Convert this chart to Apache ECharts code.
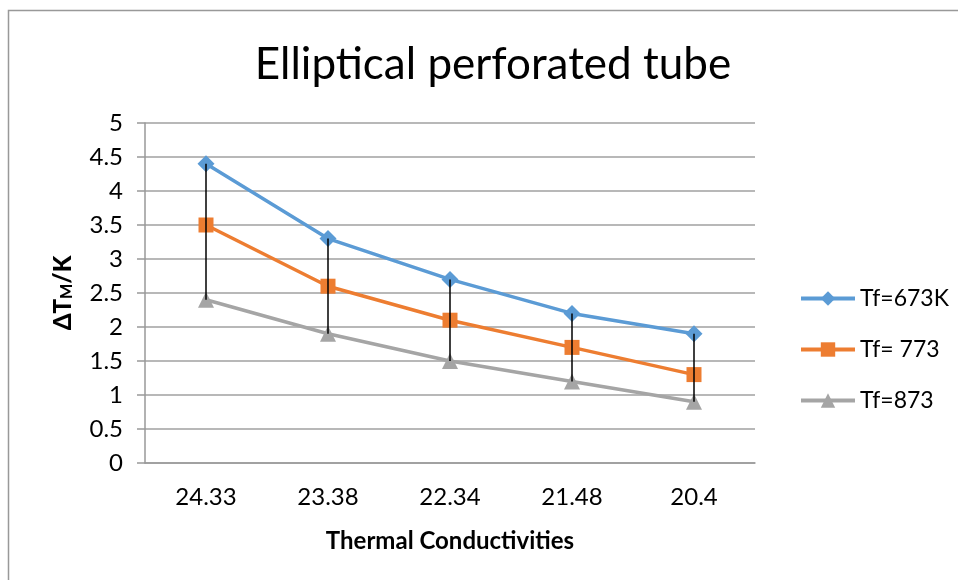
<!DOCTYPE html>
<html>
<head>
<meta charset="utf-8">
<script src="https://cdn.jsdelivr.net/npm/echarts@6/dist/echarts.min.js"></script>
<style>html,body{margin:0;padding:0;background:#fff;}#c{width:958px;height:580px;}</style>
</head>
<body>
<div id="c"></div>
<script>
var categories = ['24.33', '23.38', '22.34', '21.48', '20.4'];
var seriesNames = ['Tf=673K', 'Tf= 773', 'Tf=873'];
var tf673 = [4.4, 3.3, 2.7, 2.2, 1.9];
var tf773 = [3.5, 2.6, 2.1, 1.7, 1.3];
var tf873 = [2.4, 1.9, 1.5, 1.2, 0.9];
var yTicks = { min: 0, max: 5, interval: 0.5 };

var FONT = 'Lato';
var hiLo = categories.map(function (c, i) {
  var v = [tf673[i], tf773[i], tf873[i]];
  return [i, Math.min.apply(null, v), Math.max.apply(null, v)];
});

var chart = echarts.init(document.getElementById('c'), null, { renderer: 'canvas' });
chart.setOption({
  backgroundColor: '#fff',
  animation: false,
  title: {
    text: 'Elliptical perforated tube',
    left: 488, top: 38, textAlign: 'center',
    textStyle: { fontFamily: FONT, fontSize: 44, fontWeight: 'normal', color: '#000' }
  },
  graphic: [{
    type: 'rect', silent: true, z: -1,
    shape: { x: 8.5, y: 10.5, width: 1000, height: 1000 },
    style: { fill: 'none', stroke: '#999', lineWidth: 1.5 }
  }],
  legend: {
    orient: 'vertical', left: 794, top: 282,
    itemWidth: 54, itemHeight: 18, itemGap: 28,
    lineStyle: { width: 4 },
    textStyle: { fontFamily: FONT, fontSize: 23, color: '#000' },
    data: seriesNames
  },
  grid: { left: 145, top: 123, right: 203, bottom: 117, containLabel: false },
  xAxis: {
    type: 'category', data: categories, boundaryGap: true,
    name: 'Thermal Conductivities', nameLocation: 'middle', nameGap: 66,
    nameTextStyle: { fontFamily: FONT, fontSize: 24, fontWeight: 'bold', color: '#000' },
    axisLine: { lineStyle: { color: '#999', width: 1.5 } },
    axisTick: { show: false },
    axisLabel: { fontFamily: FONT, fontSize: 24, color: '#000', margin: 22 }
  },
  yAxis: {
    type: 'value', min: yTicks.min, max: yTicks.max, interval: yTicks.interval,
    name: '{a|ΔT}{s|M}{a|/K}', nameLocation: 'middle', nameGap: 70, nameRotate: 90,
    nameTextStyle: { rich: {
      a: { fontFamily: FONT, fontSize: 24, fontWeight: 900, color: '#000' },
      s: { fontFamily: FONT, fontSize: 16, fontWeight: 900, color: '#000', verticalAlign: 'bottom', padding: [8, 0, 0, 0] }
    } },
    axisLine: { show: true, lineStyle: { color: '#999', width: 1.5 } },
    axisTick: { show: true, length: 8, lineStyle: { color: '#999', width: 1.5 } },
    splitLine: { lineStyle: { color: '#a0a0a0', width: 1.5 } },
    axisLabel: { fontFamily: FONT, fontSize: 24, color: '#000', margin: 22 }
  },
  series: [
    { name: seriesNames[0], type: 'line', data: tf673, symbol: 'diamond', symbolSize: 17,
      lineStyle: { color: '#5b9bd5', width: 3.5 }, itemStyle: { color: '#5b9bd5' } },
    { name: seriesNames[1], type: 'line', data: tf773, symbol: 'rect', symbolSize: 15,
      lineStyle: { color: '#ed7d31', width: 3.5 }, itemStyle: { color: '#ed7d31' } },
    { name: seriesNames[2], type: 'line', data: tf873, symbol: 'triangle', symbolSize: 16,
      lineStyle: { color: '#a5a5a5', width: 3.5 }, itemStyle: { color: '#a5a5a5' } },
    { type: 'custom', data: hiLo, z: 5, silent: true,
      renderItem: function (params, api) {
        var p1 = api.coord([api.value(0), api.value(1)]);
        var p2 = api.coord([api.value(0), api.value(2)]);
        return { type: 'line', shape: { x1: p1[0], y1: p1[1], x2: p2[0], y2: p2[1] },
          style: { stroke: '#000', lineWidth: 1.5 } };
      },
      encode: { x: 0, y: [1, 2] }
    }
  ]
});
</script>
</body>
</html>
